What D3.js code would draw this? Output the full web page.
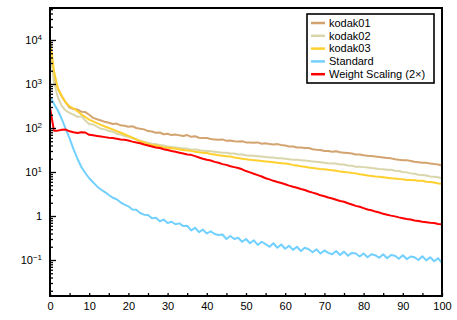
<!DOCTYPE html>
<meta charset="utf-8">
<style>

body { margin: 0; background: #fff; }

svg text {
  font-family: "Liberation Sans", Arial, Helvetica, sans-serif;
  font-size: 11px;
  fill: #000;
}

.series {
  fill: none;
  stroke-width: 2;
  stroke-linejoin: round;
}

</style>
<body>
<svg id="chart" width="457" height="320"></svg>

<script src="https://d3js.org/d3.v7.min.js"></script>

<script type="text/javascript">
// values, one per iteration 0..100
var kodak01 = [9500, 1400, 790, 525, 380, 290, 270, 263, 235, 230,
  200, 170, 158, 148, 138, 132, 123, 126, 115, 112,
  107, 110, 100, 96, 93, 85, 83, 78, 79, 72,
  74, 69, 71, 68, 66, 69, 63, 65, 60, 59,
  59, 56, 55, 54, 55, 51, 52, 50, 49, 50,
  47, 47, 46, 47, 44, 45, 43, 42, 43, 41,
  40, 38, 38, 36, 36, 35, 35, 33, 32, 31.6,
  30, 30, 29, 29.5, 28, 27.5, 27, 26.3, 25, 25,
  24, 23.4, 23, 22.4, 21.9, 21.4, 20.9, 20.4, 19.5, 19,
  18.6, 18.6, 17.8, 17, 16.6, 16.2, 16.2, 15.5, 15.1, 14.8,
  14.1];

var kodak02 = [8000, 1100, 500, 316, 250, 220, 200, 178, 186, 148,
  123, 120, 107, 96, 93, 85, 83, 74, 71, 66,
  63, 59, 55, 51, 49, 46, 44, 43, 41, 40,
  38, 37, 36, 35, 34, 34, 32, 32.4, 31.6, 30.2,
  30, 29.5, 28.8, 28.2, 27.5, 27.5, 26.3, 26.3, 25.1, 25.1,
  24, 23.4, 23.4, 22.9, 22.4, 21.9, 21.4, 21.4, 20.4, 20.4,
  20, 19.5, 19, 19, 18.6, 18.2, 17.8, 17.4, 17, 16.6,
  16.2, 15.8, 15.5, 15.5, 14.8, 14.8, 14.1, 13.8, 13.2, 13.2,
  12.9, 12.6, 12.3, 12, 11.7, 11.5, 11.2, 11.2, 10.7, 10.5,
  10, 9.8, 9.3, 9.1, 8.7, 8.5, 8.3, 7.9, 7.8, 7.6,
  7.2];

var kodak03 = [10000, 2000, 800, 525, 380, 310, 280, 240, 205, 178,
  155, 141, 129, 118, 108, 100, 93, 85, 79, 72,
  66, 60, 55, 50, 47, 43, 41, 40, 38, 36,
  35.5, 34.7, 34, 32.4, 31.6, 30.9, 30.2, 28.8, 28.2, 27.5,
  26.9, 25.7, 25.1, 24, 23.4, 22.9, 22.4, 21.4, 20.9, 20,
  19.5, 19, 18.6, 18.2, 17.8, 17.4, 17, 16.6, 16.2, 15.8,
  15.5, 15.1, 14.5, 14.1, 13.5, 13.2, 12.6, 12.3, 12, 11.7,
  11.5, 11.2, 11, 10.7, 10.2, 10, 9.8, 9.5, 9.3, 8.9,
  8.7, 8.3, 8.1, 7.9, 7.8, 7.6, 7.4, 7.2, 7.1, 6.9,
  6.8, 6.6, 6.6, 6.5, 6.3, 6.3, 6.0, 5.9, 5.75, 5.5,
  5.4];

var standard = [510, 355, 250, 160, 95, 58, 33, 20, 13, 9.5,
  7.2, 5.8, 4.7, 4.0, 3.5, 3.0, 2.6, 2.4, 2.05, 1.82,
  1.66, 1.41, 1.38, 1.17, 1.07, 1.05, 0.89, 0.91, 0.76, 0.83,
  0.69, 0.74, 0.65, 0.68, 0.59, 0.60, 0.47, 0.54, 0.43, 0.49,
  0.40, 0.45, 0.39, 0.37, 0.38, 0.30, 0.35, 0.30, 0.32, 0.26,
  0.30, 0.24, 0.28, 0.22, 0.26, 0.23, 0.20, 0.24, 0.19, 0.225,
  0.18, 0.21, 0.17, 0.20, 0.16, 0.19, 0.175, 0.15, 0.175, 0.14,
  0.165, 0.145, 0.135, 0.16, 0.13, 0.155, 0.125, 0.145, 0.14, 0.12,
  0.14, 0.115, 0.135, 0.128, 0.113, 0.135, 0.11, 0.13, 0.125, 0.107,
  0.128, 0.105, 0.12, 0.115, 0.10, 0.122, 0.098, 0.115, 0.094, 0.11,
  0.085];

var weightScaling = [295, 87, 87, 91, 92, 84, 80, 77, 80, 79,
  70, 68, 66, 64, 62, 60, 59, 57, 55, 54,
  52, 49, 47, 45, 42, 40, 38, 36, 35, 33,
  31.6, 30, 28.8, 27.5, 26.3, 25, 24.5, 22.9, 21.4, 20,
  19, 18.2, 17, 16.2, 15.1, 14.5, 13.5, 12.9, 12.3, 11.5,
  10.5, 9.8, 9.1, 8.5, 7.9, 7.2, 6.8, 6.3, 5.9, 5.6,
  5.25, 4.9, 4.6, 4.4, 4.1, 3.9, 3.6, 3.4, 3.2, 2.95,
  2.8, 2.63, 2.5, 2.34, 2.2, 2.1, 1.95, 1.82, 1.7, 1.62,
  1.51, 1.41, 1.35, 1.26, 1.2, 1.12, 1.07, 1.02, 0.98, 0.93,
  0.89, 0.85, 0.83, 0.79, 0.77, 0.74, 0.72, 0.70, 0.69, 0.66,
  0.65];

var seriesNames = ["kodak01", "kodak02", "kodak03", "Standard", "Weight Scaling (2\u00d7)"];
var seriesColors = ["#d3a370", "#dad6ab", "#ffd02e", "#72d0ff", "#ff0000"];
var xTickLabels = [0, 10, 20, 30, 40, 50, 60, 70, 80, 90, 100];
var xMinorTicks = [5, 15, 25, 35, 45, 55, 65, 75, 85, 95];
var yTickExps = [-1, 0, 1, 2, 3, 4];

var allSeries = [kodak01, kodak02, kodak03, standard, weightScaling];

var svg = d3.select("#chart"),
    plotL = 50, plotR = 442, plotT = 8, plotB = 296;

var x = d3.scaleLinear().domain([0, 100]).range([plotL, plotR]);
var y = d3.scaleLog().domain([0.0152, 53300]).range([plotB, plotT]);

svg.append("clipPath").attr("id", "plot")
  .append("rect")
    .attr("x", plotL).attr("y", plotT)
    .attr("width", plotR - plotL).attr("height", plotB - plotT);

// curves
var line = d3.line()
    .x(function(d, i) { return x(i); })
    .y(function(d) { return y(d); });

svg.append("g")
    .attr("clip-path", "url(#plot)")
  .selectAll("path")
  .data(allSeries)
  .enter().append("path")
    .attr("class", "series")
    .attr("d", line)
    .attr("stroke", function(d, i) { return seriesColors[i]; });

// y axis, ticks pointing inward
var minor = y.ticks().filter(function(v) {
  var e = Math.log10(v);
  return Math.abs(e - Math.round(e)) > 1e-6;
});
var yAxis = svg.append("g").attr("transform", "translate(" + plotL + ",0)");
yAxis.call(d3.axisLeft(y).tickValues(minor).tickSize(-3).tickSizeOuter(0).tickFormat(""));
yAxis.append("g").call(d3.axisLeft(y)
    .tickValues(yTickExps.map(function(e) { return Math.pow(10, e); }))
    .tickSize(-6).tickSizeOuter(0).tickFormat(""));
yAxis.selectAll("path").remove();
yAxis.selectAll("line").attr("stroke", "#000").attr("stroke-width", 1.3);

var yLabels = svg.append("g")
  .selectAll("text")
  .data(yTickExps)
  .enter().append("text")
    .attr("x", 42)
    .attr("y", function(d) { return y(Math.pow(10, d)); })
    .attr("dy", "0.35em")
    .attr("text-anchor", "end");

yLabels.each(function(d) {
  var t = d3.select(this);
  if (d === 0) { t.text("1"); return; }
  t.append("tspan").text("10");
  t.append("tspan")
    .attr("dy", "-0.45em")
    .style("font-size", "8px")
    .text(d < 0 ? "\u2212" + (-d) : d);
});

// x axis, ticks pointing inward
var xAxis = svg.append("g").attr("transform", "translate(0," + plotB + ")");
xAxis.call(d3.axisBottom(x).tickValues(xTickLabels.concat(xMinorTicks))
    .tickSize(-3).tickSizeOuter(0).tickPadding(6).tickFormat(function(d) {
      return xTickLabels.indexOf(d) >= 0 ? d : "";
    }));
xAxis.selectAll("path").remove();
xAxis.selectAll("line").attr("stroke", "#000").attr("stroke-width", 1.3);
xAxis.selectAll("text")
    .style("font-family", "\"Liberation Sans\", Arial, sans-serif")
    .style("font-size", "11px")
    .attr("fill", "#000");

// frame
svg.append("rect")
    .attr("x", plotL).attr("y", plotT)
    .attr("width", plotR - plotL).attr("height", plotB - plotT)
    .attr("fill", "none")
    .attr("stroke", "#000")
    .attr("stroke-width", 2);

// legend
var legend = svg.append("g").attr("transform", "translate(307,14)");
legend.append("rect")
    .attr("width", 127).attr("height", 69)
    .attr("fill", "#fff")
    .attr("stroke", "#000")
    .attr("stroke-width", 1.6);

var entry = legend.selectAll(".entry")
  .data(seriesNames)
  .enter().append("g")
    .attr("class", "entry")
    .attr("transform", function(d, i) { return "translate(0," + (9 + i * 12.8) + ")"; });

entry.append("line")
    .attr("x1", 4).attr("x2", 18)
    .attr("stroke-width", 2.5)
    .attr("stroke", function(d, i) { return seriesColors[i]; });

entry.append("text")
    .attr("x", 22)
    .attr("dy", "0.35em")
    .text(function(d) { return d; });

</script>
</body>
